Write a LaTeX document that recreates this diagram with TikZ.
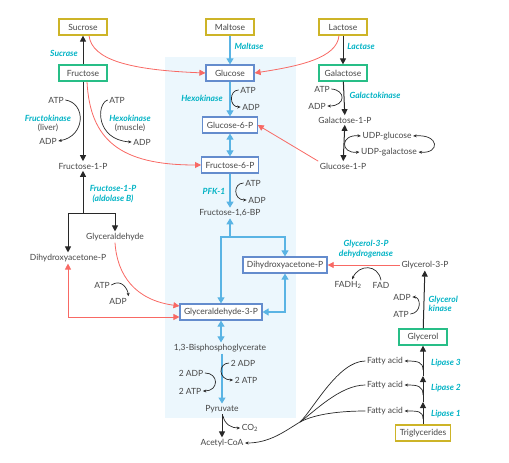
\documentclass[tikz,border=0pt]{standalone}
\usepackage{fontspec}
\setmainfont{Lato}
\usetikzlibrary{arrows.meta,positioning}
\definecolor{txtgray}{RGB}{70,70,70}
\definecolor{enzyme}{RGB}{0,178,196}
\definecolor{glyblue}{RGB}{90,180,228}
\definecolor{boxblue}{RGB}{100,140,205}
\definecolor{redpath}{RGB}{248,105,100}
\definecolor{sugarbox}{RGB}{205,180,40}
\definecolor{monobox}{RGB}{40,190,135}
\definecolor{bgblue}{RGB}{236,247,253}
\definecolor{arrowblk}{RGB}{40,40,40}

\begin{document}
\begin{tikzpicture}[x=1pt,y=-1pt,
  every node/.style={font=\fontsize{8.5}{9.5}\selectfont,text=txtgray,inner sep=1.5pt},
  box/.style={draw,line width=1.2pt,fill=white,minimum width=48pt,minimum height=16pt,inner xsep=4pt},
  sugar/.style={box,draw=sugarbox},
  mono/.style={box,draw=monobox},
  inter/.style={box,draw=boxblue},
  enz/.style={text=enzyme,font=\fontsize{8.5}{9.5}\selectfont\bfseries\itshape,align=center},
  arr/.style={-{Triangle[length=6pt,width=6pt]},line width=1pt,draw=arrowblk},
  bluearr/.style={-{Triangle[length=6pt,width=7pt]},line width=1.1pt,draw=glyblue},
  redarr/.style={-{Triangle[length=6pt,width=6pt]},line width=0.8pt,draw=redpath},
  cof/.style={-{Stealth[length=3.5pt,width=3pt]},line width=0.7pt,draw=arrowblk}
]
  \useasboundingbox (0,0) rectangle (509,463);
  \fill[bgblue] (165,57) rectangle (296,418);

  % sugars and glycolysis
  \node[sugar] (sucrose)   at (83,27)  {Sucrose};
  \node[mono]  (fructose)  at (83,73)  {Fructose};
  \node[sugar] (maltose)   at (230,27) {Maltose};
  \node[sugar] (lactose)   at (343,27) {Lactose};
  \node[inter] (glucose)   at (230,73) {Glucose};
  \node[mono]  (galactose) at (343,73) {Galactose};
  \node[inter] (g6p)   at (230,125) {Glucose-6-P};
  \node[inter] (f6p)   at (230,165) {Fructose-6-P};
  \node        (f16bp) at (230,213) {Fructose-1,6-BP};
  \node[inter] (dhapc) at (285,265) {Dihydroxyacetone-P};
  \node[inter] (g3p)   at (221,312) {Glyceraldehyde-3-P};
  \node        (bpg)   at (220,348) {1,3-Bisphosphoglycerate};
  \node        (pyr)   at (222,409) {Pyruvate};
  \node        (acoa)  at (222,443) {Acetyl-CoA};
  \node        (co2)   at (250,428) {CO\textsubscript{2}};

  % fructose branch
  \node (f1p)    at (83,166)  {Fructose-1-P};
  \node (glyald) at (115,237) {Glyceraldehyde};
  \node (dhapl)  at (68,258)  {Dihydroxyacetone-P};

  % galactose branch
  \node (gal1p)  at (345,120) {Galactose-1-P};
  \node (glc1p)  at (343,166) {Glucose-1-P};
  \node (udpglc) at (387,136) {UDP-glucose};
  \node (udpgal) at (389,152) {UDP-galactose};

  % glycerol and fatty acids
  \node        (gly3p)    at (425,265) {Glycerol-3-P};
  \node[mono]  (glycerol) at (423,337) {Glycerol};
  \node[sugar] (tg)       at (423,433) {Triglycerides};
  \node (fa3) at (385,361) {Fatty acid};
  \node (fa2) at (385,385) {Fatty acid};
  \node (fa1) at (385,411) {Fatty acid};

  % enzymes
  \node[enz] at (64,53)   {Sucrase};
  \node[enz] at (249,46)  {Maltase};
  \node[enz] at (361,46)  {Lactase};
  \node[enz] at (202,98)  {Hexokinase};
  \node[enz] at (214,191) {PFK-1};
  \node[enz] at (375,95)  {Galactokinase};
  \node[enz] at (48,118)  {Fructokinase};
  \node      at (48,128)  {(liver)};
  \node[enz] at (130,118) {Hexokinase};
  \node      at (130,128) {(muscle)};
  \node[enz] at (113,194) {Fructose-1-P\\(aldolase B)};
  \node[enz] at (366,249) {Glycerol-3-P\\dehydrogenase};
  \node[enz,align=left,anchor=west] at (427,304) {Glycerol\\kinase};
  \node[enz] at (446,363) {Lipase 3};
  \node[enz] at (446,388) {Lipase 2};
  \node[enz] at (446,414) {Lipase 1};

  % cofactors
  \node (atp1) at (56,100)  {ATP};  \node (adp1) at (48,141)  {ADP};
  \node (atp2) at (117,100) {ATP};  \node (adp2) at (142,142) {ADP};
  \node (atp3) at (248,90)  {ATP};  \node (adp3) at (251,107) {ADP};
  \node (atp4) at (253,183) {ATP};  \node (adp4) at (257,200) {ADP};
  \node (atp5) at (322,89)  {ATP};  \node (adp5) at (317,106) {ADP};
  \node (atp6) at (102,285) {ATP};  \node (adp6) at (118,301) {ADP};
  \node (atp7) at (401,314) {ATP};  \node (adp7) at (402,297) {ADP};
  \node (fadh) at (348,285) {FADH\textsubscript{2}};
  \node (fad)  at (381,285) {FAD};
  \node (adp8) at (243,363) {2 ADP}; \node (atp8) at (246,380) {2 ATP};
  \node (adp9) at (191,373) {2 ADP}; \node (atp9) at (190,391) {2 ATP};

  \coordinate (split)  at (83,213);
  \coordinate (fsplit) at (230,237);
  \coordinate (lip1)   at (423,402);
  \coordinate (lip2)   at (423,376);
  \coordinate (faj)    at (300,422);

  % main arrows
  \draw[arr] (fructose) -- (sucrose);
  \draw[bluearr] (maltose) -- (glucose);
  \draw[arr] (lactose) -- (galactose);
  \draw[arr] (fructose) -- (f1p);
  \draw[bluearr] (glucose) -- (g6p);
  \draw[bluearr,{Triangle[length=6pt,width=7pt]}-{Triangle[length=6pt,width=7pt]}] (g6p) -- (f6p);
  \draw[bluearr] (f6p) -- (f16bp);
  \draw[bluearr] (fsplit) -- (f16bp);
  \draw[bluearr] (fsplit) -| (g3p);
  \draw[bluearr] (fsplit) -| (dhapc);
  \draw[bluearr,{Triangle[length=6pt,width=7pt]}-{Triangle[length=6pt,width=7pt]}] (dhapc) |- (g3p);
  \draw[bluearr,{Triangle[length=6pt,width=7pt]}-{Triangle[length=6pt,width=7pt]}] (g3p) -- (g3p |- bpg.north);
  \draw[bluearr] (bpg.south -| pyr) -- (pyr);
  \draw[arr] (pyr) -- (acoa);
  \draw[arr] (galactose) -- (gal1p);
  \draw[arr,{Triangle[length=6pt,width=6pt]}-{Triangle[length=6pt,width=6pt]}] (gal1p) -- (glc1p);
  \draw[arr] (split) -- (f1p);
  \draw[arr] (split) -| (dhapl);
  \draw[arr] (split) -| (glyald);
  \draw[arr] (glycerol) -- (gly3p);
  \draw[arr] (tg) -- (lip1);
  \draw[arr] (lip1) -- (lip2);
  \draw[arr] (lip2) -- (glycerol);

  % red entry routes
  \draw[redarr] ([xshift=6pt]sucrose.south) .. controls (92,60) and (130,70) .. (glucose.west);
  \draw[redarr] ([xshift=-4pt]lactose.south) .. controls (337,58) and (300,66) .. (glucose.east);
  \draw[redarr] ([xshift=4pt]fructose.south) .. controls (90,140) and (120,165) .. (f6p.west);
  \draw[redarr] (glc1p.north west) -- (g6p.east);
  \draw[redarr] (glyald.south) .. controls (117,275) and (135,300) .. ([yshift=6pt]g3p.west);
  \draw[redarr,{Triangle[length=6pt,width=6pt]}-{Triangle[length=6pt,width=6pt]}] (dhapl) |- ([yshift=-5pt]g3p.west);
  \draw[redarr] (gly3p) -- (dhapc);

  % cofactor curves
  \draw[cof] (atp1.east) .. controls (86,103) and (86,136) .. (adp1.east);
  \draw[cof] (atp2.west) .. controls (96,104) and (96,140) .. (adp2.west);
  \draw[cof] (atp3.west) .. controls (229,90) and (229,107) .. (adp3.west);
  \draw[cof] (atp4.west) .. controls (233,183) and (233,200) .. (adp4.west);
  \draw[cof] (atp5.east) .. controls (346,90) and (346,106) .. (adp5.east);
  \draw[cof] (atp6.east) .. controls (122,278) and (128,290) .. (adp6.north east);
  \draw[cof] (atp7.east) .. controls (422,313) and (421,297) .. (adp7.east);
  \draw[cof] (fad.north) .. controls (378,264) and (359,264) .. ([xshift=4pt]fadh.north);
  \draw[cof] (adp8.west) .. controls (218,363) and (218,380) .. (atp8.west);
  \draw[cof] (adp9.east) .. controls (219,373) and (219,391) .. (atp9.east);
  \draw[cof] (223,416) .. controls (225,425) and (232,428) .. (co2.west);
  \draw[cof,{Stealth[length=3.5pt,width=3pt]}-{Stealth[length=3.5pt,width=3pt]}] (udpglc.west) .. controls (340,134) and (340,154) .. (udpgal.west);
  \draw[cof,{Stealth[length=3.5pt,width=3pt]}-{Stealth[length=3.5pt,width=3pt]}] (udpglc.east) .. controls (440,134) and (440,154) .. (udpgal.east);

  % fatty acids
  \draw[cof] (423,419) .. controls (423,411) and (418,411) .. (fa1.east);
  \draw[cof] (423,395) .. controls (423,386) and (418,385) .. (fa2.east);
  \draw[cof] (423,370) .. controls (423,362) and (418,361) .. (fa3.east);
  \draw[line width=0.7pt,arrowblk] (fa3.west) .. controls (338,361) and (313,410) .. (faj);
  \draw[line width=0.7pt,arrowblk] (fa2.west) .. controls (340,385) and (314,412) .. (faj);
  \draw[line width=0.7pt,arrowblk] (fa1.west) .. controls (340,411) and (315,414) .. (faj);
  \draw[cof] (faj) .. controls (285,431) and (270,443) .. (acoa.east);
\end{tikzpicture}
\end{document}
